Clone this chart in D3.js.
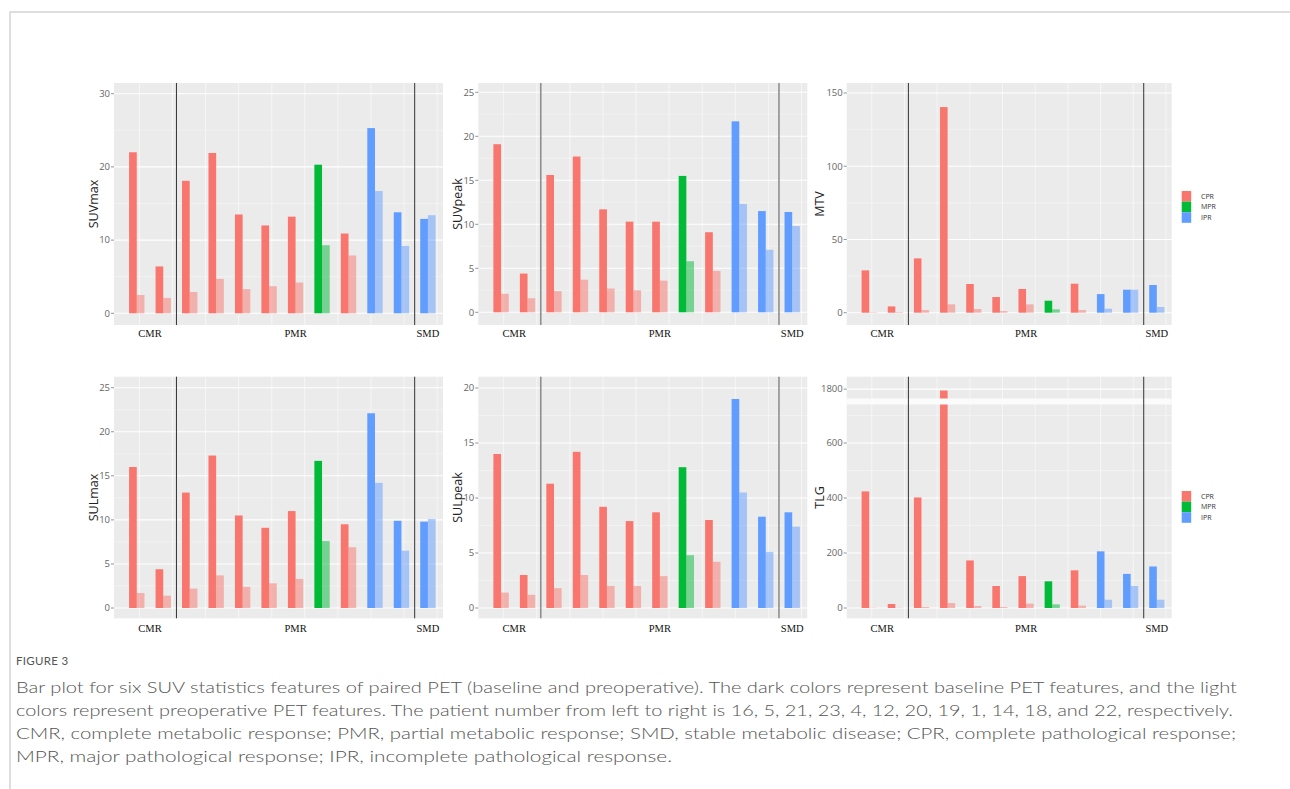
<!DOCTYPE html>
<html><head><meta charset="utf-8">
<script src="https://cdn.jsdelivr.net/npm/d3@7"></script>
<style>body{margin:0;background:#fff;} svg{display:block;}</style>
</head><body>
<svg id="chart" width="1290" height="789"></svg>
<script>
// ---------------- DATA ----------------
const patients = ["16","5","21","23","4","12","20","19","1","14","18","22"];
const pathology = ["CPR","CPR","CPR","CPR","CPR","CPR","CPR","MPR","CPR","IPR","IPR","IPR"];
const metabolic = ["CMR","CMR","PMR","PMR","PMR","PMR","PMR","PMR","PMR","PMR","PMR","SMD"];
const pathCategories = ["CPR","MPR","IPR"];
const metabolicCategories = ["CMR","PMR","SMD"];

const suvmaxBase  = [22.0, 6.4, 18.1, 21.9, 13.5, 12.0, 13.2, 20.3, 10.9, 25.3, 13.8, 12.9];
const suvmaxPre   = [2.5, 2.1, 2.9, 4.7, 3.3, 3.7, 4.2, 9.3, 7.9, 16.7, 9.2, 13.4];
const suvpeakBase = [19.1, 4.4, 15.6, 17.7, 11.7, 10.3, 10.3, 15.5, 9.1, 21.7, 11.5, 11.4];
const suvpeakPre  = [2.1, 1.6, 2.4, 3.7, 2.7, 2.5, 3.6, 5.8, 4.7, 12.3, 7.1, 9.8];
const mtvBase     = [28.9, 4.3, 37.1, 140.4, 19.6, 10.7, 16.2, 8.2, 19.8, 12.7, 15.7, 18.9];
const mtvPre      = [0.3, 0.4, 1.8, 5.7, 2.5, 1.1, 5.7, 2.3, 1.8, 2.7, 15.7, 3.9];
const sulmaxBase  = [16.0, 4.4, 13.1, 17.3, 10.5, 9.1, 11.0, 16.7, 9.5, 22.1, 9.9, 9.8];
const sulmaxPre   = [1.7, 1.4, 2.2, 3.7, 2.4, 2.8, 3.3, 7.6, 6.9, 14.2, 6.5, 10.1];
const sulpeakBase = [14.0, 3.0, 11.3, 14.2, 9.2, 7.9, 8.7, 12.8, 8.0, 19.0, 8.3, 8.7];
const sulpeakPre  = [1.4, 1.2, 1.8, 3.0, 2.0, 2.0, 2.9, 4.8, 4.2, 10.5, 5.1, 7.4];
const tlgBase     = [424, 14.5, 402, 1795, 173, 80, 116, 97, 137, 206, 124, 151];
const tlgPre      = [1, 1, 3.6, 18, 7, 3.6, 15.8, 13.3, 8.5, 30, 80, 30];

const ticksSUVmax  = [0, 10, 20, 30];
const ticksSUVpeak = [0, 5, 10, 15, 20, 25];
const ticksMTV     = [0, 50, 100, 150];
const ticksSULmax  = [0, 5, 10, 15, 20, 25];
const ticksSULpeak = [0, 5, 10, 15, 20];
const ticksTLGlow  = [0, 200, 400, 600];
const ticksTLGhigh = [1800];
const tlgBreak     = [740, 1766];   // axis break (lower top, upper bottom)

const captionTitle = "FIGURE 3";
const captionLines = [
  "Bar plot for six SUV statistics features of paired PET (baseline and preoperative). The dark colors represent baseline PET features, and the light",
  "colors represent preoperative PET features. The patient number from left to right is 16, 5, 21, 23, 4, 12, 20, 19, 1, 14, 18, and 22, respectively.",
  "CMR, complete metabolic response; PMR, partial metabolic response; SMD, stable metabolic disease; CPR, complete pathological response;",
  "MPR, major pathological response; IPR, incomplete pathological response."
];

// ---------------- STYLE / LAYOUT ----------------
const colors = {CPR: "#F8766D", MPR: "#00BA38", IPR: "#619CFF"};
const svg = d3.select("#chart");
svg.append("rect").attr("width", 1290).attr("height", 789).attr("fill", "#fff");
// page border (top + left)
svg.append("path").attr("d", "M10,789 L10,12 L1290,12").attr("fill", "none")
  .attr("stroke", "#d3d3d3").attr("stroke-width", 1.5);

const colX = [{l:114, r:443, title:93.5, sepColor:"#333", sepW:1},
              {l:478.3, r:807.3, title:457.5, sepColor:"#8f8f8f", sepW:1.6},
              {l:846.7, r:1171.7, title:819.5, sepColor:"#333", sepW:1}];
const rowY = [{t:83, b:325, zero:[313.3, 312.3, 312.7], lab:336.5},
              {t:376.7, b:618.3, zero:[608, 608, 608], lab:631.5}];

const panels = [
  {row:0, col:0, title:"SUVmax", base:suvmaxBase, pre:suvmaxPre, ticks:ticksSUVmax, topTickPx:93.7},
  {row:0, col:1, title:"SUVpeak", base:suvpeakBase, pre:suvpeakPre, ticks:ticksSUVpeak, topTickPx:92.3},
  {row:0, col:2, title:"MTV", base:mtvBase, pre:mtvPre, ticks:ticksMTV, topTickPx:93},
  {row:1, col:0, title:"SULmax", base:sulmaxBase, pre:sulmaxPre, ticks:ticksSULmax, topTickPx:387.7},
  {row:1, col:1, title:"SULpeak", base:sulpeakBase, pre:sulpeakPre, ticks:ticksSULpeak, topTickPx:388},
  {row:1, col:2, title:"TLG", base:tlgBase, pre:tlgPre, ticks:ticksTLGlow, topTickPx:443, broken:true}
];

const xDomain = [-0.86, 11.57];
const barW = 0.29;
const vGrid = d3.range(10).map(k => 0.1 + 1.25 * k);
const separators = [1.5, 10.5];
const tickFont = "'Open Sans', 'DejaVu Sans', sans-serif";

panels.forEach(p => {
  const C = colX[p.col], R = rowY[p.row];
  const zero = R.zero[p.col];
  const g = svg.append("g");
  const x = d3.scaleLinear().domain(xDomain).range([C.l, C.r]);
  const topTick = p.ticks[p.ticks.length - 1];
  const y = d3.scaleLinear().domain([0, topTick]).range([zero, p.topTickPx]);
  let yHigh = null, breakTopPx = null, breakBotPx = null;
  if (p.broken) {
    const pxPerUnit = (zero - p.topTickPx) / topTick;
    breakBotPx = y(tlgBreak[0]);
    breakTopPx = breakBotPx - 6;
    yHigh = d3.scaleLinear().domain([tlgBreak[1], tlgBreak[1] + (breakTopPx - R.t) / pxPerUnit])
      .range([breakTopPx, R.t]);
  }
  const yv = v => (p.broken && v > tlgBreak[0]) ? yHigh(v) : y(v);

  g.append("rect").attr("x", C.l).attr("y", R.t).attr("width", C.r - C.l).attr("height", R.b - R.t)
    .attr("fill", "#EBEBEB");

  const step = p.ticks[1] - p.ticks[0];
  const yMin = y.invert(R.b), yMaxLow = p.broken ? tlgBreak[0] : y.invert(R.t);
  const minor = d3.range(step / 2, yMaxLow, step).filter(v => v > yMin);
  g.selectAll(".minor").data(minor).join("line")
    .attr("x1", C.l).attr("x2", C.r).attr("y1", d => y(d)).attr("y2", d => y(d))
    .attr("stroke", "#F7F7F7").attr("stroke-width", 0.6);
  g.selectAll(".vg").data(vGrid).join("line")
    .attr("x1", d => x(d)).attr("x2", d => x(d)).attr("y1", R.t).attr("y2", R.b)
    .attr("stroke", "#F9F9F9").attr("stroke-width", 0.8);
  const allTicks = p.broken ? p.ticks.concat(ticksTLGhigh) : p.ticks;
  g.selectAll(".major").data(allTicks).join("line")
    .attr("x1", C.l).attr("x2", C.r).attr("y1", d => yv(d)).attr("y2", d => yv(d))
    .attr("stroke", "#FFFFFF").attr("stroke-width", 1.1);

  const idx = d3.range(patients.length);
  g.selectAll(".base").data(idx).join("rect")
    .attr("x", i => x(i - barW)).attr("width", i => x(i) - x(i - barW))
    .attr("y", i => yv(p.base[i])).attr("height", i => y(0) - yv(p.base[i]))
    .attr("fill", i => colors[pathology[i]]);
  g.selectAll(".pre").data(idx).join("rect")
    .attr("x", i => x(i)).attr("width", i => x(i + barW) - x(i))
    .attr("y", i => yv(p.pre[i])).attr("height", i => y(0) - yv(p.pre[i]))
    .attr("fill", i => colors[pathology[i]]).attr("fill-opacity", 0.5);

  if (p.broken) {
    g.append("rect").attr("x", C.l).attr("y", breakTopPx).attr("width", C.r - C.l)
      .attr("height", breakBotPx - breakTopPx).attr("fill", "#FBFBFB");
  }

  g.selectAll(".sep").data(separators).join("line")
    .attr("x1", d => x(d)).attr("x2", d => x(d)).attr("y1", R.t).attr("y2", R.b)
    .attr("stroke", C.sepColor).attr("stroke-width", C.sepW);

  g.selectAll(".tk").data(allTicks).join("line")
    .attr("x1", C.l - 3).attr("x2", C.l).attr("y1", d => yv(d)).attr("y2", d => yv(d))
    .attr("stroke", "#777").attr("stroke-width", 0.8);
  g.selectAll(".tl").data(allTicks).join("text")
    .attr("x", C.l - 4).attr("y", d => yv(d)).attr("dy", "0.35em")
    .attr("text-anchor", "end").attr("font-family", tickFont).attr("font-size", 9.5)
    .attr("fill", "#666").text(d => d);

  g.append("text").attr("transform", `translate(${C.title},${(R.t + R.b) / 2}) rotate(-90)`)
    .attr("text-anchor", "middle").attr("dy", "0.35em").attr("font-family", tickFont)
    .attr("font-size", 12.5).attr("fill", "#222").text(p.title);

  metabolicCategories.forEach(m => {
    const members = idx.filter(i => metabolic[i] === m);
    g.append("text").attr("x", x(d3.mean(members))).attr("y", R.lab)
      .attr("text-anchor", "middle").attr("font-family", "'Liberation Serif', 'Times New Roman', serif")
      .attr("font-size", 10.5).attr("fill", "#111").text(m);
  });
});

[191, 491].forEach(ly => {
  const lg = svg.append("g");
  pathCategories.forEach((c, k) => {
    lg.append("rect").attr("x", 1181.7).attr("y", ly + k * 10.6).attr("width", 9.5).attr("height", 10.6)
      .attr("fill", colors[c]);
    lg.append("text").attr("x", 1201).attr("y", ly + k * 10.6 + 5.3).attr("dy", "0.35em")
      .attr("font-family", tickFont).attr("font-size", 7).attr("fill", "#333").text(c);
  });
});

svg.append("text").attr("x", 16).attr("y", 665).attr("font-family", "Lato, 'Open Sans', sans-serif")
  .attr("font-size", 11.5).attr("letter-spacing", 0.3).attr("fill", "#555").text(captionTitle);
const capEnds = [1237, 1233, 1236, 672];
captionLines.forEach((t, i) => {
  svg.append("text").attr("x", 16).attr("y", 693 + i * 23)
    .attr("font-family", "Lato, 'Open Sans', sans-serif").attr("font-size", 15.5).attr("font-weight", 300)
    .attr("fill", "#555").attr("textLength", capEnds[i] - 16).attr("lengthAdjust", "spacingAndGlyphs")
    .text(t);
});
</script>
</body></html>
